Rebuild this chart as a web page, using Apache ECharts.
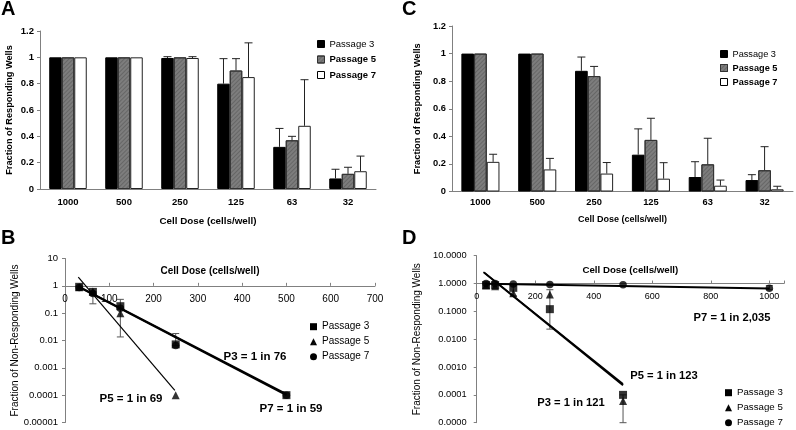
<!DOCTYPE html>
<html><head><meta charset="utf-8">
<script src="https://cdn.jsdelivr.net/npm/echarts@6/dist/echarts.min.js"></script>
<style>html,body{margin:0;padding:0;background:#fff}#c{width:796px;height:430px}</style>
</head><body><div id="c"></div>
<script>
const FONT = '"Liberation Sans", Arial, sans-serif';
const passages = ['Passage 3', 'Passage 5', 'Passage 7'];
const doseCategories = ['1000', '500', '250', '125', '63', '32'];

// Panel A : fraction of responding wells
const aP3 = [1, 1, 0.995, 0.80, 0.32, 0.08];
const aP5 = [1, 1, 1, 0.90, 0.37, 0.115];
const aP7 = [1, 1, 0.995, 0.85, 0.48, 0.135];
const aP3Err = [0, 0, 0.01, 0.19, 0.14, 0.07];
const aP5Err = [0, 0, 0, 0.09, 0.03, 0.05];
const aP7Err = [0, 0, 0.01, 0.26, 0.35, 0.115];

// Panel C : fraction of responding wells
const cP3 = [1, 1, 0.875, 0.267, 0.105, 0.083];
const cP5 = [1, 1, 0.837, 0.374, 0.197, 0.154];
const cP7 = [0.215, 0.16, 0.13, 0.093, 0.042, 0.016];
const cP3Err = [0, 0, 0.10, 0.187, 0.111, 0.039];
const cP5Err = [0, 0, 0.07, 0.157, 0.189, 0.171];
const cP7Err = [0.055, 0.08, 0.08, 0.116, 0.041, 0.022];

// Panel B : fraction of non-responding wells (log)
const bDoseP3 = [32, 63, 125, 250, 500];
const bP3 = [0.92, 0.6, 0.18, 0.0072, 0.0001];
const bDoseP5 = [32, 63, 125, 250];
const bP5 = [0.88, 0.62, 0.1, 0.0001];
const bDoseP7 = [32, 63, 125, 250, 500];
const bP7 = [0.87, 0.52, 0.15, 0.0065, 0.0001];
const bErrDose = [63, 125, 250];
const bErrLow = [0.22, 0.0135, 0.0065];
const bErrHigh = [0.6, 0.32, 0.018];
const bFitP3Dose = [30, 500], bFitP3 = [0.95, 0.00011];
const bFitP7Dose = [32, 500], bFitP7 = [0.9, 0.0001];
const bFitP5Dose = [30, 248], bFitP5 = [2.1, 0.00015];
const bYLabels = ['0.00001', '0.0001', '0.001', '0.01', '0.1', '1', '10'];

// Panel D : fraction of non-responding wells (log)
const dDoseP3 = [32, 63, 125, 250, 500];
const dP3 = [0.88, 0.88, 0.7, 0.12, 0.0001];
const dDoseP5 = [32, 63, 125, 250, 500];
const dP5 = [0.85, 0.8, 0.45, 0.4, 0.00006];
const dDoseP7 = [32, 63, 125, 250, 500, 1000];
const dP7 = [1.0, 1.0, 0.97, 0.92, 0.9, 0.68];
const dErrDose = [125, 250, 500, 1000];
const dErrLow = [0.36, 0.023, 0.00001, 0.6];
const dErrHigh = [0.97, 0.6, 0.0001, 0.85];
const dFitP3Dose = [25, 500], dFitP3 = [2.5, 0.00022];
const dFitP5Dose = [23, 500], dFitP5 = [2.6, 0.00025];
const dFitP7Dose = [32, 1000], dFitP7 = [0.98, 0.66];
const dYLabels = ['0.0000', '0.0001', '0.0010', '0.0100', '0.1000', '1.0000', '10.0000'];

const annotations = [
  {text: 'P3 = 1 in 76', x: 255, y: 357, size: 11.5},
  {text: 'P5 = 1 in 69', x: 131, y: 399, size: 11.5},
  {text: 'P7 = 1 in 59', x: 291, y: 409, size: 11.5},
  {text: 'P7 = 1 in 2,035', x: 732, y: 318, size: 11.2},
  {text: 'P5 = 1 in 123', x: 664, y: 376, size: 11.2},
  {text: 'P3 = 1 in 121', x: 571, y: 403, size: 11.2}
];
const panelLetters = [
  {text: 'A', x: 1, y: 9.5}, {text: 'C', x: 402, y: 9.5},
  {text: 'B', x: 1, y: 238}, {text: 'D', x: 402, y: 238}
];

const AXIS = '#808080';
const BAR_CAT_GAP = 0.33;
const GREY = '#7d7d7d';
const greyDecal = {symbol: 'rect', symbolSize: 1, color: 'rgba(60,60,60,0.35)',
  dashArrayX: [1, 0], dashArrayY: [1, 1.6], rotation: -Math.PI / 4};

function barSeries(idx, name, vals, k) {
  const styles = [
    {color: '#000', borderColor: '#000', borderWidth: 1},
    {color: GREY, borderColor: '#333', borderWidth: 1, decal: greyDecal},
    {color: '#fff', borderColor: '#222', borderWidth: 1}
  ];
  return {type: 'bar', name: name, xAxisIndex: idx, yAxisIndex: idx, data: vals,
    barGap: '0%', barCategoryGap: (BAR_CAT_GAP * 100) + '%', itemStyle: styles[k], silent: true};
}
function barErr(idx, vals, errs, k) {
  return {type: 'custom', xAxisIndex: idx, yAxisIndex: idx, silent: true, z: 3,
    data: vals.map((v, i) => [i, v, errs[i]]),
    renderItem: function (params, api) {
      const err = api.value(2);
      if (!err) return null;
      const band = api.size([1, 0])[0];
      const bw = band * (1 - BAR_CAT_GAP) / 3;
      const p0 = api.coord([api.value(0), api.value(1)]);
      const p1 = api.coord([api.value(0), api.value(1) + err]);
      const x = p0[0] + (k - 1) * bw;
      return {type: 'group', children: [
        {type: 'line', shape: {x1: x, y1: p0[1], x2: x, y2: p1[1]}, style: {stroke: '#222', lineWidth: 1}},
        {type: 'line', shape: {x1: x - 4, y1: p1[1], x2: x + 4, y2: p1[1]}, style: {stroke: '#222', lineWidth: 1}}
      ]};
    }};
}
function pointErr(idx, xs, lows, highs) {
  return {type: 'custom', xAxisIndex: idx, yAxisIndex: idx, silent: true, z: 1,
    data: xs.map((x, i) => [x, lows[i], highs[i]]),
    renderItem: function (params, api) {
      const a = api.coord([api.value(0), api.value(1)]);
      const b = api.coord([api.value(0), api.value(2)]);
      const x = a[0];
      const st = {stroke: '#555', lineWidth: 1};
      return {type: 'group', children: [
        {type: 'line', shape: {x1: x, y1: a[1], x2: x, y2: b[1]}, style: st},
        {type: 'line', shape: {x1: x - 3.5, y1: a[1], x2: x + 3.5, y2: a[1]}, style: st},
        {type: 'line', shape: {x1: x - 3.5, y1: b[1], x2: x + 3.5, y2: b[1]}, style: st}
      ]};
    }};
}
function scatter(idx, name, xs, ys, symbol, size) {
  return {type: 'scatter', name: name, xAxisIndex: idx, yAxisIndex: idx, symbol: symbol, symbolSize: size,
    itemStyle: {color: '#000'}, data: xs.map((x, i) => [x, ys[i]]), silent: true, z: 4};
}
function fitLine(idx, xs, ys, w) {
  return {type: 'line', xAxisIndex: idx, yAxisIndex: idx, symbol: 'none', silent: true, z: 2,
    lineStyle: {color: '#000', width: w}, data: xs.map((x, i) => [x, ys[i]])};
}
function logLabel(labels) {
  return function (v) { const i = Math.round(Math.log10(v)) + 5; return labels[i] !== undefined ? labels[i] : ''; };
}

const bold = {fontWeight: 'bold', color: '#000', fontFamily: FONT};
const norm = {fontWeight: 'normal', color: '#000', fontFamily: FONT};

function catX(idx, fs, nameSize, nameGap, margin) {
  return {gridIndex: idx, type: 'category', data: doseCategories,
    axisLine: {lineStyle: {color: AXIS}}, axisTick: {length: 4, lineStyle: {color: AXIS}},
    axisLabel: Object.assign({fontSize: fs, margin: margin}, bold),
    name: 'Cell Dose (cells/well)', nameLocation: 'middle', nameGap: nameGap,
    nameTextStyle: Object.assign({fontSize: nameSize}, bold)};
}
function barY(idx, fs, nameSize, nameGap) {
  return {gridIndex: idx, type: 'value', min: 0, max: 1.2, interval: 0.2,
    axisLine: {show: true, lineStyle: {color: AXIS}}, axisTick: {show: true, length: 3, lineStyle: {color: AXIS}},
    splitLine: {show: false},
    axisLabel: Object.assign({fontSize: fs, margin: 6, formatter: v => String(Math.round(v * 10) / 10)}, bold),
    name: 'Fraction of Responding Wells', nameLocation: 'middle', nameGap: nameGap,
    nameTextStyle: Object.assign({fontSize: nameSize}, bold)};
}
function doseX(idx, max, interval, decadePx, fs, nameSize, nameGap, namePad, margin) {
  return {gridIndex: idx, type: 'value', min: 0, max: max, interval: interval, position: 'top', offset: -decadePx,
    axisLine: {onZero: false, lineStyle: {color: AXIS}}, axisTick: {inside: false, length: 3, lineStyle: {color: AXIS}},
    splitLine: {show: false},
    axisLabel: Object.assign({inside: true, fontSize: fs, margin: margin, showMaxLabel: true,
      formatter: v => (v % interval === 0 ? String(v) : '')}, norm),
    name: 'Cell Dose (cells/well)', nameLocation: 'middle', nameGap: nameGap,
    nameTextStyle: Object.assign({fontSize: nameSize, padding: namePad}, bold)};
}
function logY(idx, labels, fs, margin, nameGap) {
  return {gridIndex: idx, type: 'log', logBase: 10, min: 0.00001, max: 10, splitNumber: 6,
    axisLine: {show: true, onZero: false, lineStyle: {color: AXIS}}, axisTick: {show: true, length: 3, lineStyle: {color: AXIS}},
    splitLine: {show: false}, minorTick: {show: false},
    axisLabel: Object.assign({fontSize: fs, margin: margin, formatter: logLabel(labels)}, norm),
    name: 'Fraction of Non-Responding Wells', nameLocation: 'middle', nameGap: nameGap,
    nameTextStyle: Object.assign({fontSize: 10}, norm)};
}
function barLegend(left, top, fs, gap) {
  return {orient: 'vertical', left: left, top: top, itemWidth: 7, itemHeight: 7, itemGap: gap, padding: 0,
    icon: 'rect', selectedMode: false, textStyle: Object.assign({fontSize: fs}, norm),
    data: [
      {name: passages[0], textStyle: {fontWeight: 'normal'}, itemStyle: {color: '#000', borderColor: '#000', borderWidth: 1}},
      {name: passages[1], textStyle: {fontWeight: 'bold'}, itemStyle: {color: GREY, borderColor: '#333', borderWidth: 1}},
      {name: passages[2], textStyle: {fontWeight: 'bold'}, itemStyle: {color: '#fff', borderColor: '#000', borderWidth: 1}}
    ]};
}
function ptLegend(left, top, fs, gap) {
  const st = {color: '#000', borderWidth: 0};
  return {orient: 'vertical', left: left, top: top, itemWidth: 7, itemHeight: 7, itemGap: gap, padding: 0,
    selectedMode: false, textStyle: Object.assign({fontSize: fs}, norm),
    data: [
      {name: passages[0], icon: 'rect', itemStyle: st},
      {name: passages[1], icon: 'triangle', itemStyle: st},
      {name: passages[2], icon: 'circle', itemStyle: st}
    ]};
}

const option = {
  animation: false,
  backgroundColor: '#fff',
  textStyle: {fontFamily: FONT},
  grid: [
    {left: 40, top: 31, width: 336, height: 158},
    {left: 452, top: 26, width: 341, height: 165.5},
    {left: 65, top: 258.5, width: 310, height: 164},
    {left: 476.7, top: 255.7, width: 307.3, height: 167}
  ],
  xAxis: [
    catX(0, 9.5, 9.8, 27, 8),
    catX(1, 9.3, 9, 23.5, 6.5),
    doseX(2, 700, 100, 164 / 6, 10, 10, 10, [0, 20, 0, 0], 8),
    doseX(3, 1050, 200, 167 / 6, 9, 9.7, 8, [0, 0, 0, 0], 8.5)
  ],
  yAxis: [
    barY(0, 9.5, 9.2, 26),
    barY(1, 9.3, 9.3, 30),
    logY(2, bYLabels, 9.5, 7, 45),
    logY(3, dYLabels, 9.3, 10, 54)
  ],
  legend: [
    barLegend(317, 39, 9.5, 5.5),
    barLegend(720, 49.5, 9.2, 5),
    ptLegend(310, 321.7, 10, 5),
    ptLegend(725, 387.7, 9.7, 5)
  ],
  series: [
    barSeries(0, passages[0], aP3, 0), barSeries(0, passages[1], aP5, 1), barSeries(0, passages[2], aP7, 2),
    barErr(0, aP3, aP3Err, 0), barErr(0, aP5, aP5Err, 1), barErr(0, aP7, aP7Err, 2),
    barSeries(1, passages[0], cP3, 0), barSeries(1, passages[1], cP5, 1), barSeries(1, passages[2], cP7, 2),
    barErr(1, cP3, cP3Err, 0), barErr(1, cP5, cP5Err, 1), barErr(1, cP7, cP7Err, 2),
    fitLine(2, bFitP3Dose, bFitP3, 2), fitLine(2, bFitP7Dose, bFitP7, 2), fitLine(2, bFitP5Dose, bFitP5, 1.2),
    pointErr(2, bErrDose, bErrLow, bErrHigh),
    scatter(2, passages[0], bDoseP3, bP3, 'rect', 8), scatter(2, passages[1], bDoseP5, bP5, 'triangle', 8),
    scatter(2, passages[2], bDoseP7, bP7, 'circle', 7.5),
    fitLine(3, dFitP3Dose, dFitP3, 2), fitLine(3, dFitP5Dose, dFitP5, 1.5), fitLine(3, dFitP7Dose, dFitP7, 2),
    pointErr(3, dErrDose, dErrLow, dErrHigh),
    scatter(3, passages[0], dDoseP3, dP3, 'rect', 8), scatter(3, passages[1], dDoseP5, dP5, 'triangle', 8),
    scatter(3, passages[2], dDoseP7, dP7, 'circle', 7.5)
  ],
  graphic: annotations.map(a => ({type: 'text', silent: true, x: a.x, y: a.y,
      style: {text: a.text, fill: '#000', font: 'bold ' + a.size + 'px ' + FONT, textAlign: 'center', textVerticalAlign: 'middle'}}))
    .concat(panelLetters.map(p => ({type: 'text', silent: true, x: p.x, y: p.y,
      style: {text: p.text, fill: '#000', font: 'bold 20px ' + FONT, textAlign: 'left', textVerticalAlign: 'middle'}})))
};

const chart = echarts.init(document.getElementById('c'), null, {renderer: 'canvas'});
chart.setOption(option);
</script></body></html>
